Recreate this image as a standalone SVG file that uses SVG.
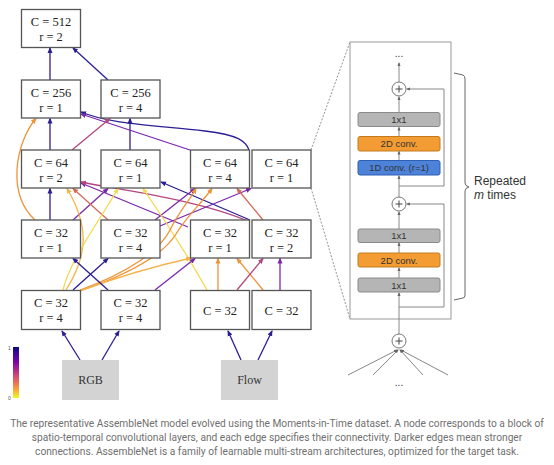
<svg xmlns="http://www.w3.org/2000/svg" width="554" height="465" viewBox="0 0 554 465">
<style>
.node rect{fill:#fff;stroke:#555;stroke-width:1.3}
.node text{font-family:"Liberation Serif",serif;font-size:12.5px;fill:#222;text-anchor:middle}
.inp rect{fill:#d3d3d3}
.inp text{font-family:"Liberation Serif",serif;font-size:12px;fill:#333;text-anchor:middle}
.e{fill:none;stroke-width:1.3}
.bl{stroke:#2b1f94;marker-end:url(#mbl)}
.pu{stroke:#7a28ab;marker-end:url(#mpu)}
.mg{stroke:#b5467f;marker-end:url(#mmg)}
.sa{stroke:#d46b58;marker-end:url(#msa)}
.or{stroke:#ee9438;marker-end:url(#mor)}
.lo{stroke:#f4b44a;marker-end:url(#mlo)}
.ye{stroke:#f5d94e;marker-end:url(#mye)}
.pa{fill:none;stroke:#888;stroke-width:1;marker-end:url(#mg)}
.blk text{font-family:"Liberation Sans",Arial,sans-serif;font-size:9.5px;fill:#333;text-anchor:middle}
.cap{font-family:Roboto,"Liberation Sans",sans-serif;font-size:10.2px;fill:#707070;text-anchor:middle}
</style>
<defs>
<marker id="mbl" markerWidth="6" markerHeight="6" refX="5" refY="3" orient="auto" markerUnits="userSpaceOnUse"><path d="M0,0.5 L6,3 L0,5.5z" fill="#2b1f94"/></marker>
<marker id="mpu" markerWidth="6" markerHeight="6" refX="5" refY="3" orient="auto" markerUnits="userSpaceOnUse"><path d="M0,0.5 L6,3 L0,5.5z" fill="#7a28ab"/></marker>
<marker id="mmg" markerWidth="6" markerHeight="6" refX="5" refY="3" orient="auto" markerUnits="userSpaceOnUse"><path d="M0,0.5 L6,3 L0,5.5z" fill="#b5467f"/></marker>
<marker id="msa" markerWidth="6" markerHeight="6" refX="5" refY="3" orient="auto" markerUnits="userSpaceOnUse"><path d="M0,0.5 L6,3 L0,5.5z" fill="#d46b58"/></marker>
<marker id="mor" markerWidth="6" markerHeight="6" refX="5" refY="3" orient="auto" markerUnits="userSpaceOnUse"><path d="M0,0.5 L6,3 L0,5.5z" fill="#ee9438"/></marker>
<marker id="mlo" markerWidth="6" markerHeight="6" refX="5" refY="3" orient="auto" markerUnits="userSpaceOnUse"><path d="M0,0.5 L6,3 L0,5.5z" fill="#f4b44a"/></marker>
<marker id="mye" markerWidth="6" markerHeight="6" refX="5" refY="3" orient="auto" markerUnits="userSpaceOnUse"><path d="M0,0.5 L6,3 L0,5.5z" fill="#f5d94e"/></marker>
<marker id="mg" markerWidth="4" markerHeight="4" refX="3" refY="2" orient="auto" markerUnits="userSpaceOnUse"><path d="M0,0.5 L4,2 L0,3.5z" fill="#666"/></marker>
<linearGradient id="cb" x1="0" y1="0" x2="0" y2="1">
<stop offset="0" stop-color="#0d0887"/><stop offset="0.3" stop-color="#7e03a8"/><stop offset="0.55" stop-color="#cc4778"/><stop offset="0.8" stop-color="#f89540"/><stop offset="1" stop-color="#f0f921"/>
</linearGradient>
</defs>

<g id="edges">
<path class="e bl" d="M50,80 L50,48"/>
<path class="e bl" d="M108,80 L73,48"/>
<path class="e bl" d="M50,150 L50,118.5"/>
<path class="e bl" d="M130,150 L130,118.5"/>
<path class="e bl" d="M249,150 C246,141 238,135 205,131 C150,125 110,124 81,112"/>
<path class="e pu" d="M190,150 L81,114"/>
<path class="e mg" d="M72,150 L110,118.5"/>
<path class="e or" d="M35,220 C22,208 16,190 17,170 C18,150 26,130 36,118.5"/>
<path class="e bl" d="M50,220 L50,188.5"/>
<path class="e pu" d="M73,220 L108,188.5"/>
<path class="e sa" d="M108,220 L73,188.5"/>
<path class="e pu" d="M188,227 L81,183"/>
<path class="e mg" d="M250,222 C200,200 120,190 81,182"/>
<path class="e bl" d="M250,220 L161,182"/>
<path class="e pu" d="M155,220 L195,188.5"/>
<path class="e pu" d="M160,226 L251,188.5"/>
<path class="e sa" d="M263,220 L237,188.5"/>
<path class="e lo" d="M66,290 C85,260 92,230 67,188.5"/>
<path class="e ye" d="M63,290 C70,260 100,220 118,188.5"/>
<path class="e ye" d="M207,290 C190,260 165,220 143,188.5"/>
<path class="e or" d="M80,290 C130,272 160,250 170,230 S190,200 196,188.5"/>
<path class="e or" d="M80,291 C135,272 165,252 176,234 S200,205 212,188.5"/>
<path class="e lo" d="M80,291 C120,276 160,265 191,258"/>
<path class="e bl" d="M73,290 L108,258.5"/>
<path class="e bl" d="M108,290 L73,258.5"/>
<path class="e pu" d="M155,290 L195,258.5"/>
<path class="e or" d="M218,290 L218,258.5"/>
<path class="e or" d="M263,290 L237,258.5"/>
<path class="e mg" d="M237,290 L263,258.5"/>
<path class="e pu" d="M280,290 L280,258.5"/>
<path class="e bl" d="M80,360 L62,331"/>
<path class="e bl" d="M102,360 L119,331"/>
<path class="e bl" d="M241,360 L228,331"/>
<path class="e bl" d="M258,360 L272,331"/>
</g>

<g id="n512"><g class="node"><rect x="21.5" y="9.5" width="59" height="38"/><text x="51" y="26">C = 512</text><text x="51" y="41">r = 2</text></g></g>
<g id="n256a"><g class="node"><rect x="21.5" y="80" width="59" height="38"/><text x="51" y="96.5">C = 256</text><text x="51" y="111.5">r = 1</text></g></g>
<g id="n256b"><g class="node"><rect x="101" y="80" width="59" height="38"/><text x="130.5" y="96.5">C = 256</text><text x="130.5" y="111.5">r = 4</text></g></g>
<g id="n64a"><g class="node"><rect x="21.5" y="150" width="59" height="38"/><text x="51" y="166.5">C = 64</text><text x="51" y="181.5">r = 2</text></g></g>
<g id="n64b"><g class="node"><rect x="101" y="150" width="59" height="38"/><text x="130.5" y="166.5">C = 64</text><text x="130.5" y="181.5">r = 1</text></g></g>
<g id="n64c"><g class="node"><rect x="190.5" y="150" width="59" height="38"/><text x="220" y="166.5">C = 64</text><text x="220" y="181.5">r = 4</text></g></g>
<g id="n64d"><g class="node"><rect x="252" y="150" width="59" height="38"/><text x="281.5" y="166.5">C = 64</text><text x="281.5" y="181.5">r = 1</text></g></g>
<g id="n32a"><g class="node"><rect x="21.5" y="220" width="59" height="38"/><text x="51" y="236.5">C = 32</text><text x="51" y="251.5">r = 1</text></g></g>
<g id="n32b"><g class="node"><rect x="101" y="220" width="59" height="38"/><text x="130.5" y="236.5">C = 32</text><text x="130.5" y="251.5">r = 4</text></g></g>
<g id="n32c"><g class="node"><rect x="190.5" y="220" width="59" height="38"/><text x="220" y="236.5">C = 32</text><text x="220" y="251.5">r = 1</text></g></g>
<g id="n32d"><g class="node"><rect x="252" y="220" width="59" height="38"/><text x="281.5" y="236.5">C = 32</text><text x="281.5" y="251.5">r = 2</text></g></g>
<g id="n32e"><g class="node"><rect x="21.5" y="290.5" width="59" height="39"/><text x="51" y="307">C = 32</text><text x="51" y="322">r = 4</text></g></g>
<g id="n32f"><g class="node"><rect x="101" y="290.5" width="59" height="39"/><text x="130.5" y="307">C = 32</text><text x="130.5" y="322">r = 4</text></g></g>
<g id="n32g"><g class="node"><rect x="190.5" y="290.5" width="59" height="39"/><text x="220" y="314.5">C = 32</text></g></g>
<g id="n32h"><g class="node"><rect x="252" y="290.5" width="59" height="39"/><text x="281.5" y="314.5">C = 32</text></g></g>
<g id="rgb"><g class="inp"><rect x="62" y="360" width="57" height="40"/><text x="90.5" y="384">RGB</text></g></g>
<g id="flow"><g class="inp"><rect x="221" y="360" width="57" height="40"/><text x="249.5" y="384">Flow</text></g></g>

<g id="colorbar">
<rect x="13" y="347" width="6" height="51" fill="url(#cb)"/>
<text x="8" y="350" font-family="Liberation Sans,sans-serif" font-size="5" fill="#555">1</text>
<text x="8" y="400" font-family="Liberation Sans,sans-serif" font-size="5" fill="#555">0</text>
</g>

<g id="zoomlines" stroke="#777" stroke-width="0.8" stroke-dasharray="2,1.5" fill="none">
<path d="M311,150 L350,42"/>
<path d="M311,188 L350,319"/>
</g>

<g id="panel">
<rect x="350" y="42" width="101" height="277" fill="#fff" stroke="#999" stroke-width="1"/>
<text x="399" y="57" font-family="Liberation Sans,sans-serif" font-size="10" fill="#333" text-anchor="middle">...</text>
<path class="pa" d="M399,82 L399,63"/>
<circle cx="399" cy="89" r="7" fill="#fff" stroke="#777"/>
<path d="M395.5,89 H402.5 M399,85.5 V92.5" stroke="#444" stroke-width="1"/>
<path class="pa" d="M399,112.5 L399,97"/>
<g class="blk"><rect x="358" y="112.5" width="82" height="14" rx="2" fill="#b5b5b5" stroke="#8a8a8a"/><text x="399" y="123">1x1</text></g>
<path class="pa" d="M399,136.5 L399,127.5"/>
<g class="blk"><rect x="358" y="136.5" width="82" height="14.5" rx="2" fill="#f29c33" stroke="#c47a1c"/><text x="399" y="147">2D conv.</text></g>
<path class="pa" d="M399,160.5 L399,151.5"/>
<g class="blk"><rect x="358" y="160.5" width="82" height="14.5" rx="2" fill="#4d82d9" stroke="#2f5fb0"/><text x="399" y="171">1D conv. (r=1)</text></g>
<path class="pa" d="M399,197 L399,176"/>
<path class="pa" d="M399,186 H444 V89 H407"/>
<circle cx="399" cy="204" r="7" fill="#fff" stroke="#777"/>
<path d="M395.5,204 H402.5 M399,200.5 V207.5" stroke="#444" stroke-width="1"/>
<path class="pa" d="M399,229 L399,212"/>
<g class="blk"><rect x="358" y="229" width="82" height="13.5" rx="2" fill="#b5b5b5" stroke="#8a8a8a"/><text x="399" y="239">1x1</text></g>
<path class="pa" d="M399,253 L399,243"/>
<g class="blk"><rect x="358" y="253" width="82" height="14" rx="2" fill="#f29c33" stroke="#c47a1c"/><text x="399" y="263.5">2D conv.</text></g>
<path class="pa" d="M399,278 L399,268"/>
<g class="blk"><rect x="358" y="278" width="82" height="14" rx="2" fill="#b5b5b5" stroke="#8a8a8a"/><text x="399" y="288.5">1x1</text></g>
<path class="pa" d="M399,334 L399,293"/>
<path class="pa" d="M399,307 H444 V204 H407"/>
</g>

<g id="bottomsum">
<circle cx="399" cy="341" r="7" fill="#fff" stroke="#777"/>
<path d="M395.5,341 H402.5 M399,337.5 V344.5" stroke="#444" stroke-width="1"/>
<path class="pa" d="M348,375 L397,350"/>
<path class="pa" d="M373,375 L398,350"/>
<path class="pa" d="M423,375 L400,350"/>
<path class="pa" d="M448,375 L401,350"/>
<text x="399" y="386" font-family="Liberation Sans,sans-serif" font-size="10" fill="#333" text-anchor="middle">...</text>
</g>

<g id="bracket">
<path d="M454,73 L463,75 Q465,76 465,79 L465,183 Q465,186 469,187 Q465,188 465,191 L465,295 Q465,298 463,298 L454,300" fill="none" stroke="#666" stroke-width="1"/>
<text x="474" y="185" font-family="Liberation Sans,sans-serif" font-size="12" fill="#333">Repeated</text>
<text x="474" y="199" font-family="Liberation Sans,sans-serif" font-size="12" fill="#333"><tspan font-style="italic">m</tspan> times</text>
</g>

<g id="caption">
<text class="cap" x="277" y="427">The representative AssembleNet model evolved using the Moments-in-Time dataset. A node corresponds to a block of</text>
<text class="cap" x="277" y="441">spatio-temporal convolutional layers, and each edge specifies their connectivity. Darker edges mean stronger</text>
<text class="cap" x="277" y="455">connections. AssembleNet is a family of learnable multi-stream architectures, optimized for the target task.</text>
</g>
</svg>
